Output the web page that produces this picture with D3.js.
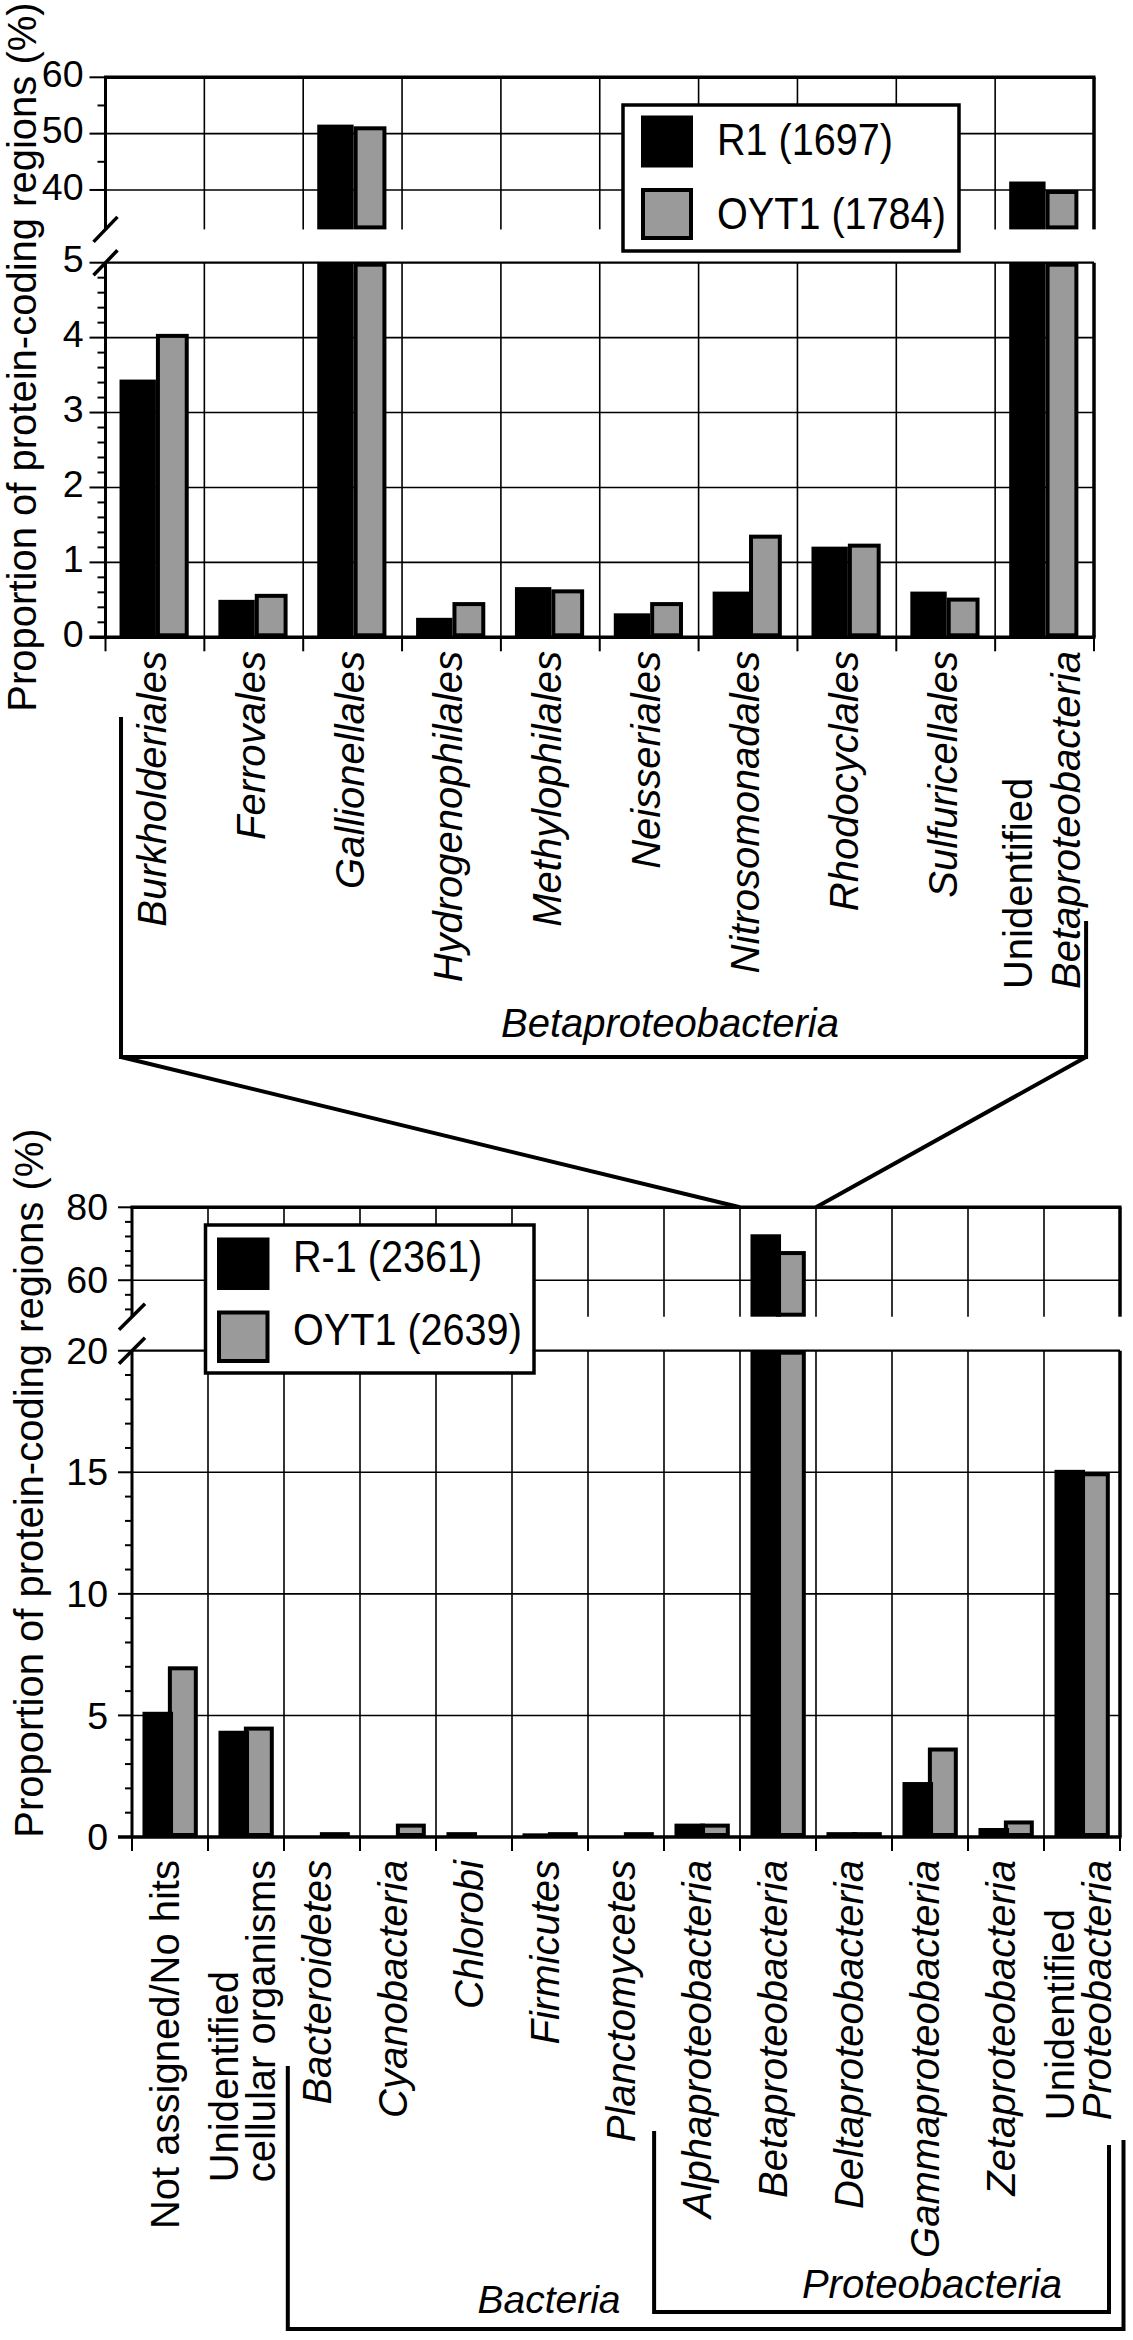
<!DOCTYPE html>
<html><head><meta charset="utf-8">
<script src="https://cdn.jsdelivr.net/npm/d3@7"></script>
<style>
body{margin:0;background:#fff}
svg{display:block}
text{font-family:"Liberation Sans",Arial,Helvetica,sans-serif;fill:#000}
</style>
</head><body>
<svg id="chart" width="1133" height="2340"></svg>
<script>
// ---------------- DATA ----------------
const topCategories = [["Burkholderiales"],["Ferrovales"],["Gallionellales"],["Hydrogenophilales"],["Methylophilales"],["Neisseriales"],["Nitrosomonadales"],["Rhodocyclales"],["Sulfuricellales"],["Unidentified","Betaproteobacteria"]];
const topR1   = [3.44, 0.50, 51.6, 0.26, 0.67, 0.32, 0.61, 1.21, 0.61, 41.5];
const topOYT1 = [4.05, 0.58, 51.3, 0.47, 0.64, 0.47, 1.37, 1.25, 0.53, 40.0];
const topUpperTicks = [40, 50, 60];
const topUpperMinor = [45, 55];
const topLowerTicks = [0, 1, 2, 3, 4, 5];
const topLegend = ["R1 (1697)", "OYT1 (1784)"];

const botCategories = [["Not assigned/No hits"],["Unidentified","cellular organisms"],["Bacteroidetes"],["Cyanobacteria"],["Chlorobi"],["Firmicutes"],["Planctomycetes"],["Alphaproteobacteria"],["Betaproteobacteria"],["Deltaproteobacteria"],["Gammaproteobacteria"],["Zetaproteobacteria"],["Unidentified","Proteobacteria"]];
const botR1   = [5.15, 4.37, 0, 0, 0.2, 0.15, 0, 0.55, 72.6, 0.2, 2.26, 0.37, 15.1];
const botOYT1 = [7.02, 4.54, 0.2, 0.55, 0, 0.2, 0.2, 0.55, 68.0, 0.2, 3.68, 0.68, 15.0];
const botUpperTicks = [60, 80];
const botUpperMinor = [52, 56, 64, 68, 72, 76];
const botLowerTicks = [0, 5, 10, 15, 20];
const botLegend = ["R-1 (2361)", "OYT1 (2639)"];

const uprightLines = ["Not assigned/No hits", "Unidentified", "cellular organisms"];
const axisTitle = "Proportion of protein-coding regions (%)";
const topGroupLabel = "Betaproteobacteria";
const botGroupLabels = ["Bacteria", "Proteobacteria"];

// ---------------- DRAWING ----------------
const GRAY = "#9a9a9a";
const svg = d3.select("#chart");

function line(g, x1, y1, x2, y2, w) {
  g.append("line").attr("x1", x1).attr("y1", y1).attr("x2", x2).attr("y2", y2)
    .attr("stroke", "#000").attr("stroke-width", w).attr("stroke-linecap", "butt");
}

function drawChart(c) {
  const g = svg.append("g");
  const n = c.cats.length;
  const x = d3.scaleBand().domain(d3.range(n)).range([c.x0, c.x1]);
  const bw = x.bandwidth();
  const yU = d3.scaleLinear().domain(c.uDomain).range(c.uRange);
  const yL = d3.scaleLinear().domain(c.lDomain).range(c.lRange);
  const uTop = c.uDomain[1], uBot = c.uDomain[0], lTop = c.lDomain[1];

  // gridlines
  const grid = g.append("g");
  c.uTicks.filter(t => t < uTop && t > uBot).forEach(t => line(grid, c.x0, yU(t), c.x1, yU(t), 1.6));
  c.lTicks.filter(t => t > 0 && t < lTop).forEach(t => line(grid, c.x0, yL(t), c.x1, yL(t), 1.6));
  for (let i = 1; i < n; i++) {
    const xx = x(i);
    line(grid, xx, yU(uTop), xx, yU(uBot), 1.6);
    line(grid, xx, yL(lTop), xx, yL(0), 1.6);
  }

  // bars
  const bars = g.append("g");
  function panel(y, lo, hi) {
    c.s2.forEach((v, i) => {
      if (v <= lo) return;
      const top = y(Math.min(v, hi)), bot = y(lo);
      const x0 = x(i) + c.f2[0] * bw, x1 = x(i) + c.f2[1] * bw;
      bars.append("rect").attr("x", x0 + 2).attr("y", top + 2)
        .attr("width", Math.max(0, x1 - x0 - 4)).attr("height", Math.max(0, bot - top - 4))
        .attr("fill", GRAY).attr("stroke", "#000").attr("stroke-width", 4);
    });
    c.s1.forEach((v, i) => {
      if (v <= lo) return;
      const top = y(Math.min(v, hi)), bot = y(lo);
      const x0 = x(i) + c.f1[0] * bw, x1 = x(i) + c.f1[1] * bw;
      bars.append("rect").attr("x", x0).attr("y", top)
        .attr("width", x1 - x0).attr("height", bot - top).attr("fill", "#000");
    });
  }
  panel(yU, uBot, uTop);
  panel(yL, 0, lTop);

  // frame
  const fr = g.append("g");
  line(fr, c.x0 - 1.5, yU(uTop), c.x1 + 1.5, yU(uTop), 3.5);
  line(fr, c.x0, yU(uTop), c.x0, yU(uBot), 3);
  line(fr, c.x1, yU(uTop), c.x1, yU(uBot), 3.5);
  line(fr, c.x0, yL(lTop), c.x1, yL(lTop), 2.2);
  line(fr, c.x0, yL(lTop), c.x0, yL(0), 3);
  line(fr, c.x1, yL(lTop), c.x1, yL(0), 3.5);
  line(fr, c.x0 - c.majorLen, yL(0), c.x1 + 1.5, yL(0), 3.5);

  // y ticks
  c.uTicks.forEach(t => line(fr, c.x0 - c.majorLen, yU(t), c.x0, yU(t), 2));
  c.uMinor.forEach(t => line(fr, c.x0 - c.minorLen, yU(t), c.x0, yU(t), 2));
  c.lTicks.forEach(t => line(fr, c.x0 - c.majorLen, yL(t), c.x0, yL(t), 2));
  c.lMinor.forEach(t => line(fr, c.x0 - c.minorLen, yL(t), c.x0, yL(t), 2));
  // x ticks
  for (let i = 0; i <= n; i++) {
    const xx = c.x0 + i * bw;
    line(fr, xx, yL(0), xx, yL(0) + 14, 2);
  }

  // tick labels
  const tl = g.append("g").attr("font-size", c.tickFont).attr("text-anchor", "end");
  c.uTicks.forEach(t => tl.append("text").attr("x", c.x0 - c.majorLen - c.tickGap).attr("y", yU(t)).attr("dy", c.tickDy).text(t));
  c.lTicks.forEach(t => tl.append("text").attr("x", c.x0 - c.majorLen - c.tickGap).attr("y", yL(t)).attr("dy", c.tickDy).text(t));

  // break slashes
  [yU(uBot), yL(lTop)].forEach(yy => {
    line(fr, c.x0 - c.slash[0], yy + c.slash[1], c.x0 + c.slash[0], yy - c.slash[1], 3.5);
  });

  // axis title
  g.append("text").attr("transform", `translate(${c.titleX},${c.titleY}) rotate(-90)`)
    .attr("text-anchor", "middle").attr("font-size", 40).text(axisTitle);

  // category labels
  c.cats.forEach((lines, i) => {
    const cx = x(i) + bw / 2;
    const lg = g.append("g").attr("transform", `translate(${cx},${c.labelTop}) rotate(-90)`);
    const offs = lines.length === 1 ? [c.singleOff] : c.multiOff;
    const texts = lines.map((s, k) => lg.append("text")
      .attr("font-size", c.labelFont)
      .attr("font-style", uprightLines.includes(s) ? "normal" : "italic")
      .attr("text-anchor", "start").attr("x", 0).attr("y", offs[k]).text(s));
    const maxLen = d3.max(texts, t => t.node().getComputedTextLength());
    texts.forEach(t => t.attr("x", -maxLen));
  });

  // legend
  const L = c.legend;
  const lgd = g.append("g");
  lgd.append("rect").attr("x", L.x).attr("y", L.y).attr("width", L.w).attr("height", L.h)
    .attr("fill", "#fff").attr("stroke", "#000").attr("stroke-width", 3.5);
  lgd.append("rect").attr("x", L.sx).attr("y", L.sy[0]).attr("width", L.ss).attr("height", L.ss).attr("fill", "#000");
  lgd.append("rect").attr("x", L.sx + 2).attr("y", L.sy[1] + 2).attr("width", L.ss - 4).attr("height", L.ss - 4)
    .attr("fill", GRAY).attr("stroke", "#000").attr("stroke-width", 4);
  c.legendText.forEach((s, k) => lgd.append("text")
    .attr("transform", `translate(${L.tx},${L.ty[k]}) scale(0.9,1)`)
    .attr("font-size", 44).text(s));

  return {x, bw, yU, yL};
}

const topChart = drawChart({
  cats: topCategories, s1: topR1, s2: topOYT1,
  x0: 105.5, x1: 1094,
  uDomain: [33, 60], uRange: [229.4, 77.3],
  lDomain: [0, 5], lRange: [637.3, 262.7],
  uTicks: topUpperTicks, uMinor: topUpperMinor,
  lTicks: topLowerTicks, lMinor: d3.range(0.2, 5, 0.2).filter(v => Math.abs(v - Math.round(v)) > 0.01),
  f1: [0.142, 0.51], f2: [0.51, 0.842],
  majorLen: 16, minorLen: 8, tickGap: 6, tickFont: 37.5, tickDy: "0.26em",
  slash: [12, 12.5],
  titleX: 36, titleY: 357,
  labelTop: 651, labelFont: 40, singleOff: 11, multiOff: [-13, 35],
  legend: {x: 623, y: 105, w: 336, h: 146, sx: 641, sy: [115.5, 188], ss: 52, tx: 717, ty: [155, 228.5]},
  legendText: topLegend
});

const botChart = drawChart({
  cats: botCategories, s1: botR1, s2: botOYT1,
  x0: 132, x1: 1120,
  uDomain: [50, 80], uRange: [1316.7, 1207.3],
  lDomain: [0, 20], lRange: [1837, 1350.7],
  uTicks: botUpperTicks, uMinor: botUpperMinor,
  lTicks: botLowerTicks, lMinor: d3.range(1, 20, 1).filter(v => v % 5 !== 0),
  f1: [0.138, 0.54], f2: [0.472, 0.866],
  majorLen: 14, minorLen: 7, tickGap: 10, tickFont: 37.5, tickDy: "0.35em",
  slash: [13, 13],
  titleX: 43, titleY: 1483,
  labelTop: 1860, labelFont: 40, singleOff: 9, multiOff: [-8, 29],
  legend: {x: 205.5, y: 1225, w: 328.5, h: 148, sx: 217, sy: [1237.5, 1310.5], ss: 52.5, tx: 293, ty: [1272, 1345]},
  legendText: botLegend
});

// ---------------- GROUP BRACKETS ----------------
const ann = svg.append("g").attr("fill", "none").attr("stroke", "#000");
{
  const bw = topChart.bw, tx = topChart.x;
  const left = tx(0) + 0.157 * bw, right = tx(9) + 0.92 * bw, yb = 1057;
  ann.append("path").attr("stroke-width", 4)
    .attr("d", `M${left},717 V${yb} H${right} V921`);
  const bb = botChart.x(8), be = bb + botChart.bw, yt = botChart.yU(80);
  ann.append("path").attr("stroke-width", 4).attr("d", `M${left},${yb} L${bb},${yt}`);
  ann.append("path").attr("stroke-width", 4).attr("d", `M${right},${yb} L${be},${yt}`);
  svg.append("text").attr("x", 670).attr("y", 1037).attr("text-anchor", "middle")
    .attr("font-size", 40).attr("font-style", "italic").text(topGroupLabel);
}
{
  const bw = botChart.bw, bx = botChart.x;
  const bl = bx(2) + 0.05 * bw, br = 1123.5, yB = 2329;
  ann.append("path").attr("stroke-width", 4).attr("d", `M${bl},2066 V${yB} H${br} V2140`);
  const pl = bx(7) - 0.13 * bw, pr = 1109, yP = 2312;
  ann.append("path").attr("stroke-width", 4).attr("d", `M${pl},2131 V${yP} H${pr} V2145`);
  svg.append("text").attr("x", 549).attr("y", 2313).attr("text-anchor", "middle")
    .attr("font-size", 39).attr("font-style", "italic").text(botGroupLabels[0]);
  svg.append("text").attr("x", 932).attr("y", 2298).attr("text-anchor", "middle")
    .attr("font-size", 40).attr("font-style", "italic").text(botGroupLabels[1]);
}
</script>
</body></html>
